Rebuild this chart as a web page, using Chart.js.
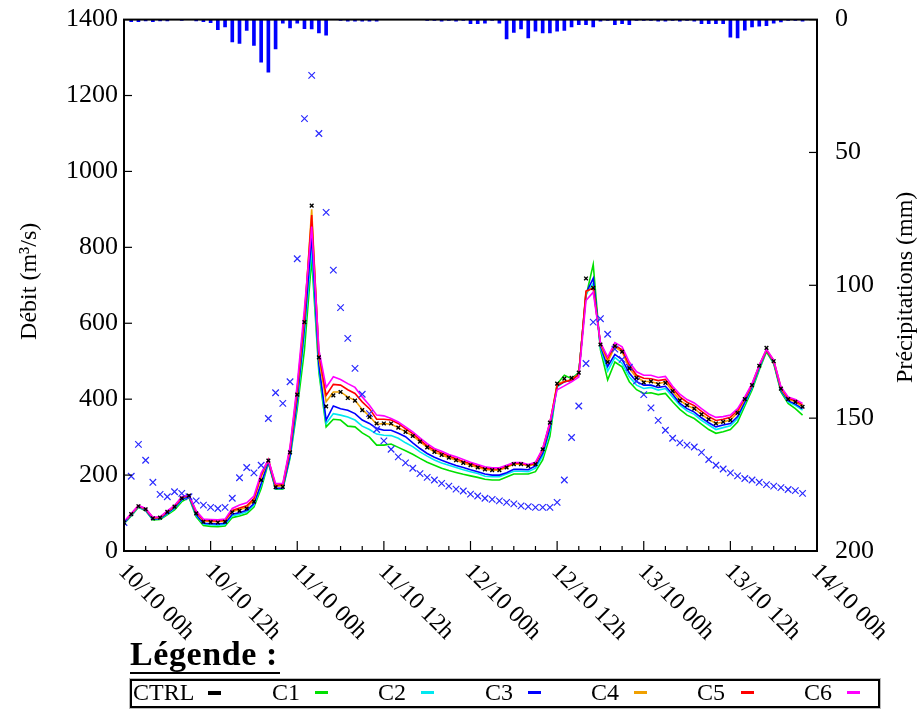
<!DOCTYPE html>
<html><head><meta charset="utf-8">
<script src="https://cdn.jsdelivr.net/npm/chart.js@4/dist/chart.umd.min.js"></script>
<style>
html,body{margin:0;padding:0;background:#fff;}
#wrap{position:relative;width:918px;height:709px;overflow:hidden;}
#c{position:absolute;left:0;top:-14px;}
.lt{position:absolute;left:130px;top:636px;font:bold 34px "Liberation Serif",serif;letter-spacing:0.6px;color:#000;border-bottom:2px solid #000;line-height:36px;padding-right:2px;}
.box{position:absolute;left:130px;top:679px;width:746px;height:25px;border:2px solid #000;box-shadow:0 0 0 1px #bbb;}
.it{position:absolute;top:677px;font:24px "Liberation Serif",serif;color:#000;line-height:30px;}
.dash{position:absolute;width:13px;height:3px;top:691px;}
</style></head>
<body><div id="wrap"><canvas id="c" width="918" height="723"></canvas>
<div class="lt">Légende :</div>
<div class="box"></div>
<div id="leg"></div>
</div>
<script>
const hours = Array.from({length: 95}, (_, i) => i);
const xTickHours = [0, 12, 24, 36, 48, 60, 72, 84, 96];
const xTickLabels = ['10/10 00h','10/10 12h','11/10 00h','11/10 12h','12/10 00h','12/10 12h','13/10 00h','13/10 12h','14/10 00h'];
const seriesNames = ['CTRL','C1','C2','C3','C4','C5','C6'];

const ctrl = [75,97,118,110,86,88,103,117,139,146,99,77,76,75,77,102,106,112,130,187,238,168,169,260,412,603,910,510,381,410,419,403,396,371,353,336,336,336,325,314,303,288,273,261,253,246,239,232,226,220,215,213,213,220,229,229,224,229,268,338,441,454,456,470,718,693,544,498,540,525,481,456,444,447,439,443,421,397,384,375,360,347,336,340,345,364,400,437,488,535,500,428,400,393,380];
const c1 = [72,92,115,106,82,83,95,108,130,141,90,67,65,64,66,88,92,98,116,165,232,163,163,245,375,530,770,470,327,347,345,329,327,311,300,279,279,282,273,264,255,244,234,226,218,212,207,202,198,194,189,187,187,195,203,203,203,209,240,302,440,463,454,470,671,755,530,451,498,485,446,425,415,417,412,415,393,373,358,349,334,320,310,314,320,340,382,424,477,525,494,419,389,375,358];
const c2 = [73,94,116,107,83,85,98,112,134,143,94,71,69,68,70,93,97,103,121,173,235,164,165,248,390,570,800,480,336,362,358,353,345,329,320,308,305,304,297,285,275,261,250,240,232,226,220,214,209,204,197,196,196,203,210,210,209,218,250,318,432,446,450,467,676,705,535,474,510,494,459,437,428,431,424,428,406,384,369,360,344,332,320,325,330,349,389,430,481,529,497,424,393,384,371];
const c3 = [74,95,117,108,84,86,100,114,136,144,96,73,72,71,73,97,101,107,125,178,236,165,166,252,400,590,830,490,345,382,375,371,362,345,336,323,318,318,310,301,285,270,257,247,239,232,225,220,214,209,203,200,200,206,215,215,214,224,257,325,436,446,450,467,679,718,540,486,518,504,469,446,437,437,431,434,413,389,375,366,351,338,327,332,336,354,393,433,484,529,497,424,396,387,375];
const c4 = [75,97,118,110,87,88,103,117,140,146,101,79,78,77,79,104,109,115,134,195,240,170,172,266,420,612,900,510,393,419,419,406,397,373,355,334,336,334,325,314,303,288,273,261,253,246,239,232,226,220,215,213,213,220,229,229,224,229,266,336,440,447,451,467,682,695,545,498,538,525,481,457,447,446,441,445,421,397,384,375,360,347,336,340,345,364,400,437,488,530,500,428,400,393,380];
const c5 = [76,98,119,111,88,89,104,118,141,147,103,81,80,79,81,107,113,119,138,200,241,173,175,270,430,622,885,520,410,439,437,425,415,393,375,347,347,345,336,322,309,293,277,266,258,250,243,236,230,224,218,216,216,223,231,231,226,231,268,338,436,446,450,465,685,692,548,507,542,530,490,463,455,454,449,452,428,406,392,383,368,354,344,347,352,370,403,439,489,530,502,431,403,396,385];
const c6 = [77,99,120,112,89,90,106,120,143,148,106,84,83,82,84,112,121,127,145,205,240,178,178,275,440,640,855,530,431,459,452,441,431,406,384,358,356,349,340,327,314,298,283,270,263,254,248,241,234,228,222,219,219,226,233,233,228,234,270,340,425,435,446,458,660,682,550,511,549,538,498,472,463,463,457,460,434,413,399,390,375,361,352,354,358,375,406,441,490,532,503,433,406,399,389];
const observed = [75,197,281,239,181,149,143,156,152,143,132,121,115,112,115,139,193,220,206,226,349,417,389,446,770,1139,1253,1100,892,740,641,560,481,413,362,320,290,268,248,232,218,204,194,187,178,171,163,158,150,145,139,136,132,128,124,119,117,115,115,115,128,187,299,382,494,603,612,571,532,505,484,448,412,377,344,318,297,285,279,274,260,241,226,216,206,198,191,187,181,175,171,167,162,159,152];
const precip = [0,0.8,0.8,0.5,0.8,0.5,0.5,0,0.3,0,0.5,0.8,1.2,3.8,2.8,8.4,9,4.1,9.7,16,19.8,11,1.3,3.1,1.3,3.4,3.5,5,5.9,0,0.3,0.6,0.6,0.6,0.6,0.6,0,0,0,0,0,0,0.3,0.3,0.6,0.3,0.6,0.3,1.5,1.5,1.3,0.3,1.3,7.3,4.8,3.5,6.9,4.4,5,5,4.4,4.1,2.8,1.9,1.9,2.8,0.6,0.3,1.9,1.5,1.9,0.3,0.3,0.3,0.6,0.6,0.3,0.6,0.3,0.6,1.5,1.5,1.5,1.5,6.6,6.9,4,2.8,2.5,2.3,1.3,0.9,0.3,0.3,0.6];
const flowTicks = [0,200,400,600,800,1000,1200,1400];
const precipTicks = [0,50,100,150,200];

const colors = {CTRL:'#000000', C1:'#00e000', C2:'#00e8f0', C3:'#0000ff', C4:'#f0a000', C5:'#ff0000', C6:'#ff00ff'};
const xy = arr => arr.map((v, i) => ({x: hours[i], y: v}));
const lineDs = (name, arr, order) => ({type:'line', label:name, data:xy(arr), borderColor:colors[name], borderWidth:1.6, pointRadius:0, tension:0, fill:false, yAxisID:'y', order});

const FONT = '"Liberation Serif", serif';
const deco = {
  id: 'deco',
  afterDraw(chart) {
    const {ctx, chartArea: a, scales} = chart;
    ctx.save();
    ctx.strokeStyle = '#000';
    ctx.lineWidth = 2;
    ctx.strokeRect(a.left, a.top, a.right - a.left, a.bottom - a.top);
    ctx.lineWidth = 1.2;
    const line = (x1, y1, x2, y2) => { ctx.beginPath(); ctx.moveTo(x1, y1); ctx.lineTo(x2, y2); ctx.stroke(); };
    flowTicks.forEach(v => { const y = scales.y.getPixelForValue(v); line(a.left, y, a.left + 8, y); });
    precipTicks.forEach(v => { const y = scales.y2.getPixelForValue(v); line(a.right, y, a.right - 8, y); });
    for (let h = 0; h <= 96; h += 3) {
      const x = scales.x.getPixelForValue(h);
      line(x, a.bottom, x, a.bottom - (h % 12 === 0 ? 10 : 5));
    }
    ctx.fillStyle = '#000';
    ctx.font = '24px ' + FONT;
    ctx.textAlign = 'left';
    ctx.textBaseline = 'middle';
    xTickLabels.forEach((lab, i) => {
      const x = scales.x.getPixelForValue(xTickHours[i]);
      ctx.save();
      ctx.translate(x - 2, a.bottom + 17);
      ctx.rotate(Math.PI / 4);
      ctx.fillText(lab, 0, 0);
      ctx.restore();
    });
    ctx.textAlign = 'center';
    ctx.save();
    ctx.translate(30, (a.top + a.bottom) / 2 - 4);
    ctx.rotate(-Math.PI / 2);
    ctx.fillText('Débit (m³/s)', 0, 0);
    ctx.restore();
    ctx.save();
    ctx.translate(906, (a.top + a.bottom) / 2 + 2);
    ctx.rotate(-Math.PI / 2);
    ctx.fillText('Précipitations (mm)', 0, 0);
    ctx.restore();
    ctx.restore();
  }
};

new Chart(document.getElementById('c'), {
  type: 'line',
  data: {
    datasets: [
      {type:'scatter', label:'CTRL', data:xy(ctrl), pointStyle:'crossRot', pointRadius:2.6, pointBorderWidth:1.4, borderColor:'#000', backgroundColor:'#000', showLine:false, yAxisID:'y', order:0},
      {type:'scatter', label:'Observé', data:xy(observed), pointStyle:'crossRot', pointRadius:4.6, pointBorderWidth:1.2, borderColor:'#2a2aff', backgroundColor:'#2a2aff', showLine:false, yAxisID:'y', order:1},
      lineDs('C6', c6, 2), lineDs('C5', c5, 3), lineDs('C4', c4, 4), lineDs('C3', c3, 5), lineDs('C2', c2, 6), lineDs('C1', c1, 7),
      {type:'bar', label:'Précipitations', data:xy(precip), backgroundColor:'#0000ff', barThickness:3, yAxisID:'y2', order:8}
    ]
  },
  options: {
    responsive:false, animation:false, devicePixelRatio:1,
    layout:{padding:{top:5, left:0, right:0, bottom:0}},
    plugins:{legend:{display:false}, tooltip:{enabled:false}},
    scales:{
      x:{type:'linear', min:0, max:96, offset:false, grid:{display:false}, border:{display:false}, ticks:{display:false},
         afterFit(s){ s.height = 158; }},
      y:{position:'left', min:0, max:1400, grid:{display:false, drawTicks:false}, border:{display:false},
         ticks:{stepSize:200, color:'#000', padding:6, font:{family:FONT, size:26}, callback:v => String(v)},
         afterFit(s){ s.width = 124; }},
      y2:{position:'right', min:0, max:200, reverse:true, grid:{display:false, drawTicks:false}, border:{display:false},
         ticks:{stepSize:50, color:'#000', padding:18, font:{family:FONT, size:26}, callback:v => String(v)},
         afterFit(s){ s.width = 101; }}
    }
  },
  plugins:[deco]
});

const legX = [133, 272, 378, 485, 591, 697, 804];
const legD = [208, 315, 421, 528, 634, 741, 847];
const leg = document.getElementById('leg');
seriesNames.forEach((n, i) => {
  const t = document.createElement('div'); t.className = 'it'; t.style.left = legX[i] + 'px'; t.textContent = n; leg.appendChild(t);
  const d = document.createElement('div'); d.className = 'dash'; d.style.left = legD[i] + 'px'; d.style.background = colors[n];
  if (n === 'CTRL') { d.style.height = '4px'; }
  leg.appendChild(d);
});
</script>
</body></html>
